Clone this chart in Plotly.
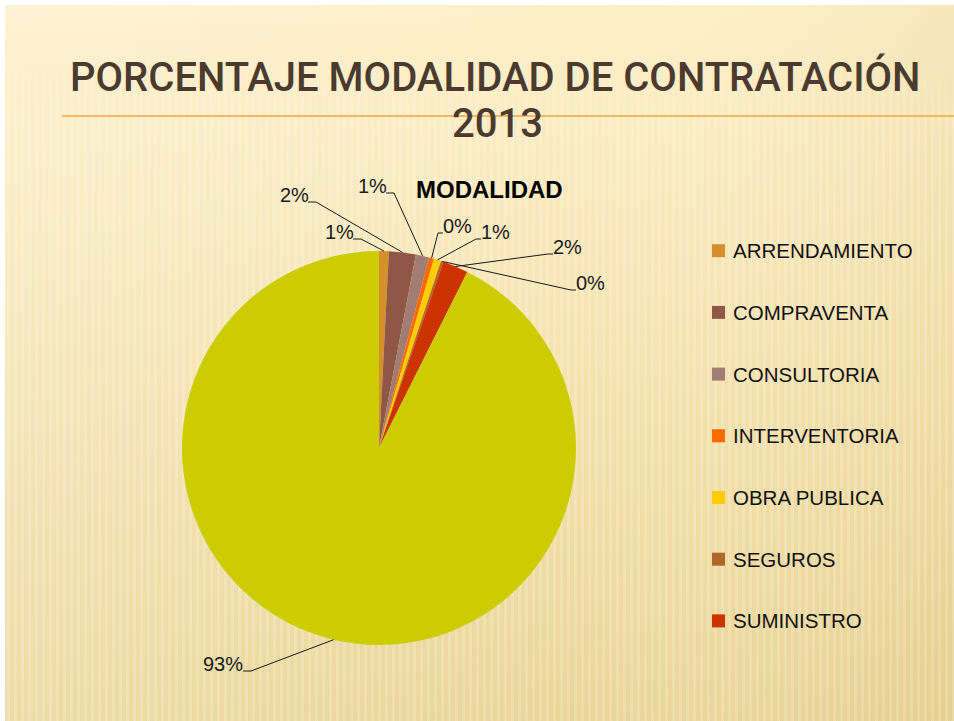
import base64
import math
import plotly.graph_objects as go

# data (share of contracts by modality, %)
modalidades = ['ARRENDAMIENTO', 'COMPRAVENTA', 'CONSULTORIA', 'INTERVENTORIA',
               'OBRA PUBLICA', 'SEGUROS', 'SUMINISTRO', 'PRESTACION DE SERVICIOS']
valores = [0.8, 2.2, 1.1, 0.4, 0.6, 0.2, 2.1, 92.6]
colores = ['#d58f2b', '#8e5746', '#a37c74', '#ff6a00', '#ffcc00', '#ae6629',
           '#cc3300', '#cccc00']
en_leyenda = 7  # the last slice is not listed in the legend

W, H = 954, 721
CX, CY, R = 379, 448, 197

# where each data label sits (px, text centre) and which side the leader leaves from
label_pos = [(339, 232, 'r'), (294, 195, 'r'), (372, 186, 'r'), (457, 226, 'l'),
             (495, 232, 'l'), (590, 283, 'l'), (567, 247, 'l'), (223, 664, 'r')]


def px(x, y):
    return x / W, 1 - y / H


# background: cream slide with a soft vertical gradient and stripes
svg = f'''<svg xmlns="http://www.w3.org/2000/svg" width="{W}" height="{H}">
<defs>
<linearGradient id="g" x1="0" y1="0" x2="0" y2="1">
<stop offset="0" stop-color="#fdf0c9"/><stop offset="0.45" stop-color="#f6e4b2"/>
<stop offset="1" stop-color="#e9d596"/></linearGradient>
<linearGradient id="h" x1="0" y1="0" x2="1" y2="0">
<stop offset="0" stop-color="#ffffff" stop-opacity="0.15"/>
<stop offset="0.6" stop-color="#ffffff" stop-opacity="0"/>
<stop offset="1" stop-color="#c9a850" stop-opacity="0.12"/></linearGradient>
<pattern id="p" width="7" height="20" patternUnits="userSpaceOnUse">
<rect x="0" y="0" width="3" height="20" fill="#ffffff" fill-opacity="0.2"/></pattern>
<linearGradient id="f" x1="0" y1="0" x2="0" y2="1">
<stop offset="0" stop-color="#fff" stop-opacity="0"/><stop offset="0.1" stop-color="#fff" stop-opacity="1"/>
<stop offset="1" stop-color="#fff" stop-opacity="1"/></linearGradient>
<mask id="m"><rect x="0" y="50" width="{W}" height="{H}" fill="url(#f)"/></mask>
</defs>
<rect width="{W}" height="{H}" fill="#ffffff"/>
<rect x="5" y="5" width="{W}" height="{H}" fill="url(#g)"/>
<rect x="5" y="5" width="{W}" height="{H}" fill="url(#h)"/>
<rect x="5" y="50" width="{W}" height="{H}" fill="url(#p)" mask="url(#m)"/>
</svg>'''
bg = 'data:image/svg+xml;base64,' + base64.b64encode(svg.encode()).decode()

x0, y1 = px(CX - R, CY - R)
x1, y0 = px(CX + R, CY + R)

fig = go.Figure(go.Pie(
    labels=modalidades, values=valores, sort=False, direction='clockwise',
    marker=dict(colors=colores, line=dict(width=0)),
    textinfo='none', showlegend=False,
    domain=dict(x=[x0, x1], y=[y0, y1])))

shapes = []
annotations = []
total = sum(valores)
acum = 0
for v, (lx, ly, side) in zip(valores, label_pos):
    ang = math.radians((acum + v / 2) / total * 360)
    acum += v
    ax_, ay_ = CX + R * math.sin(ang), CY - R * math.cos(ang)
    txt = f'{round(v / total * 100)}%'
    half = len(txt) * 6 + 2
    sx = lx + half if side == 'r' else lx - half
    ex = sx + 8 if side == 'r' else sx - 5
    sy = ly + 7
    p = [px(sx, sy), px(ex, sy), px(ax_, ay_)]
    shapes.append(dict(type='path', xref='paper', yref='paper',
                       path='M {} {} L {} {} L {} {}'.format(*p[0], *p[1], *p[2]),
                       line=dict(color='#1a1a1a', width=1)))
    tx, ty = px(lx, ly)
    annotations.append(dict(x=tx, y=ty, xref='paper', yref='paper', text=txt,
                            showarrow=False, xanchor='center', yanchor='middle',
                            font=dict(family='Liberation Sans', size=20, color='#1a1a1a')))

# legend drawn by hand (the big slice is not listed)
for i in range(en_leyenda):
    yc = 250.7 + i * 61.7
    a, b = px(712, yc - 6.5)
    c, d = px(725, yc + 6.5)
    shapes.append(dict(type='rect', xref='paper', yref='paper', x0=a, x1=c, y0=d, y1=b,
                       fillcolor=colores[i], line=dict(width=0)))
    tx, ty = px(731, yc)
    annotations.append(dict(x=tx, y=ty, xref='paper', yref='paper', text=modalidades[i],
                            showarrow=False, xanchor='left', yanchor='middle',
                            font=dict(family='Liberation Sans', size=20.5, color='#111111')))

# title rule
a, b = px(62, 116)
shapes.append(dict(type='line', xref='paper', yref='paper', x0=a, x1=1, y0=b, y1=b,
                   line=dict(color='#f0a63a', width=1.5)))

title_font = dict(family='Roboto', size=40, color='#4b3b2f', weight=500)
for t, (x, y) in [('PORCENTAJE MODALIDAD DE CONTRATACIÓN', (496, 77)),
                  ('2013', (497, 123))]:
    tx, ty = px(x, y)
    annotations.append(dict(x=tx, y=ty, xref='paper', yref='paper', text=t,
                            showarrow=False, xanchor='center', yanchor='middle',
                            font=title_font))

tx, ty = px(489, 189)
annotations.append(dict(x=tx, y=ty, xref='paper', yref='paper', text='<b>MODALIDAD</b>',
                        showarrow=False, xanchor='center', yanchor='middle',
                        font=dict(family='Liberation Sans', size=24, color='#000000')))

fig.update_layout(
    width=W, height=H, autosize=False,
    margin=dict(l=0, r=0, t=0, b=0),
    paper_bgcolor='white', plot_bgcolor='white',
    images=[dict(source=bg, xref='paper', yref='paper', x=0, y=1, sizex=1, sizey=1,
                 xanchor='left', yanchor='top', sizing='stretch', layer='below')],
    shapes=shapes, annotations=annotations)

# drop the default page margin so the figure fills the window
fig.write_html('out.html', config={'displayModeBar': False},
               post_script="document.body.style.margin='0';")
